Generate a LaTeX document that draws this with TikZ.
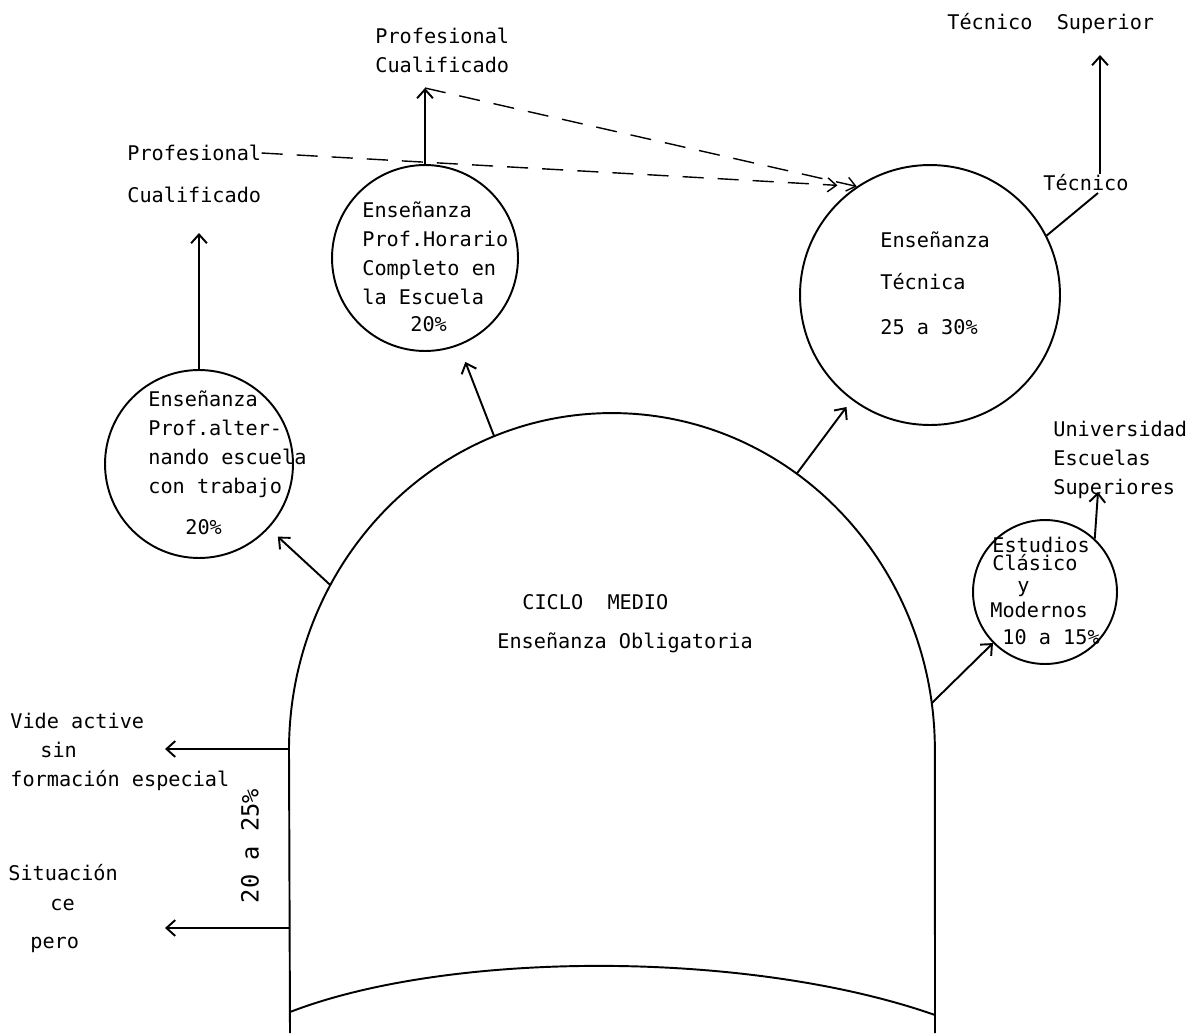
\documentclass[tikz,border=0pt]{standalone}
\usepackage{fontspec}
\setmonofont{DejaVu Sans Mono}
\usetikzlibrary{arrows.meta,positioning}
\tikzset{
    txt/.style={font=\ttfamily\fontsize{11.5}{16.5}\selectfont, inner sep=0pt, align=left},
    bubble/.style={circle, draw, line width=1.1pt, inner sep=0pt},
    line/.style={line width=1.1pt},
    arrow/.style={line, -{Straight Barb[length=5pt,width=9pt]}},
    darrow/.style={line width=0.8pt, dash pattern=on 12pt off 8pt,
        -{Straight Barb[length=5pt,width=8pt]}}
}
\begin{document}
\begin{tikzpicture}[x=0.02cm, y=0.02cm]
    \useasboundingbox (0,0) rectangle (1197,-1035);
    % ciclo medio
    \draw[line] (290,-1033) -- (289,-750)
        arc[start angle=180, end angle=0, x radius=6.46cm, y radius=6.74cm]
        -- (935,-1033);
    \draw[line] (290,-1012) .. controls (450,-950) and (750,-950) .. (935,-1015);
    \coordinate (cm) at (612,-750);
    \coordinate (c1) at ([shift={(cm)}]150.7:6.46cm and 6.74cm);
    \coordinate (c2) at ([shift={(cm)}]111.4:6.46cm and 6.74cm);
    \coordinate (c3) at ([shift={(cm)}]55.1:6.46cm and 6.74cm);
    \coordinate (c4) at ([shift={(cm)}]8:6.46cm and 6.74cm);
    \node[txt, anchor=west] (ciclo) at (522,-602) {CICLO\ \ MEDIO};
    \node[txt, anchor=west] (oblig) at (497,-643) {Enseñanza Obligatoria};

    % bubbles
    \node[bubble, minimum size=3.76cm] (alt) at (199,-464) {};
    \node[bubble, minimum size=3.72cm] (hor) at (425,-258) {};
    \node[bubble, minimum size=5.2cm] (tec) at (930,-295) {};
    \node[bubble, minimum size=2.88cm] (est) at (1045,-592) {};

    \node[txt, anchor=north west] (altT) at (148,-390)
        {Enseñanza\\Prof.alter-\\nando escuela\\con trabajo};
    \node[txt, anchor=west] (altP) at (185,-527) {20\%};
    \node[txt, anchor=north west] (horT) at (362,-201)
        {Enseñanza\\Prof.Horario\\Completo en\\la Escuela};
    \node[txt, anchor=west] (horP) at (410,-324) {20\%};
    \node[txt, anchor=west] (tecA) at (880,-240) {Enseñanza};
    \node[txt, anchor=west] (tecB) at (880,-282) {Técnica};
    \node[txt, anchor=west] (tecC) at (880,-327) {25 a 30\%};
    \node[txt, anchor=west] (estA) at (992,-545) {Estudios};
    \node[txt, anchor=west] (estB) at (992,-563) {Clásico};
    \node[txt, anchor=west] (estC) at (1017,-589) {y};
    \node[txt, anchor=west] (estD) at (990,-610) {Modernos};
    \node[txt, anchor=west] (estE) at (1002,-637) {10 a 15\%};

    % salidas
    \node[txt, anchor=west] (prof1) at (127,-153) {Profesional};
    \node[txt, anchor=west] (cual1) at (127,-195) {Cualificado};
    \node[txt, anchor=north west] (prof2) at (375,-28) {Profesional\\Cualificado};
    \node[txt, anchor=west] (tsup) at (947,-24) {Técnico\ \ Superior};
    \node[txt, anchor=west] (tco) at (1043,-183) {Técnico};
    \node[txt, anchor=north west] (univ) at (1053,-421)
        {Universidad\\Escuelas\\Superiores};
    \node[txt, anchor=north west] (vida) at (10,-713)
        {Vide active\\\hspace*{0.6cm}sin\\formación especial};
    \node[txt, anchor=west] (sitA) at (8,-873) {Situación};
    \node[txt, anchor=west] (sitB) at (50,-905) {ce};
    \node[txt, anchor=west] (sitC) at (30,-945) {pero};
    \node[txt, rotate=90, font=\ttfamily\fontsize{13.5}{16}\selectfont] (pct) at (250,-846) {20 a 25\%};

    \coordinate (t1) at (199,-233);
    \coordinate (t2) at (425,-88);
    \coordinate (t3) at (1098,-492);
    \coordinate (tj1) at (1098,-193);
    \coordinate (tj2) at (1100,-174);
    \coordinate (t4) at (1100,-55);
    \coordinate (v1) at (289,-749);
    \coordinate (v1t) at (165,-749);
    \coordinate (v2) at (289,-928);
    \coordinate (v2t) at (165,-928);

    \draw[arrow, shorten >=7pt] (c1) -- (alt);
    \draw[arrow, shorten >=10pt] (c2) -- (hor);
    \draw[arrow, shorten >=5pt] (c3) -- (tec);
    \draw[arrow] (c4) -- (est);
    \draw[arrow] (alt.north) -- (t1);
    \draw[arrow] (hor.north) -- (t2);
    \draw[arrow] (est.47) -- (t3);
    \draw[line] (tec.27) -- (tj1);
    \draw[arrow] (tj2) -- (t4);
    \draw[darrow, shorten >=11pt] (prof1.east) -- (tec.124);
    \draw[darrow] (t2) -- (tec.124);
    \draw[arrow] (v1) -- (v1t);
    \draw[arrow] (v2) -- (v2t);
\end{tikzpicture}
\end{document}
